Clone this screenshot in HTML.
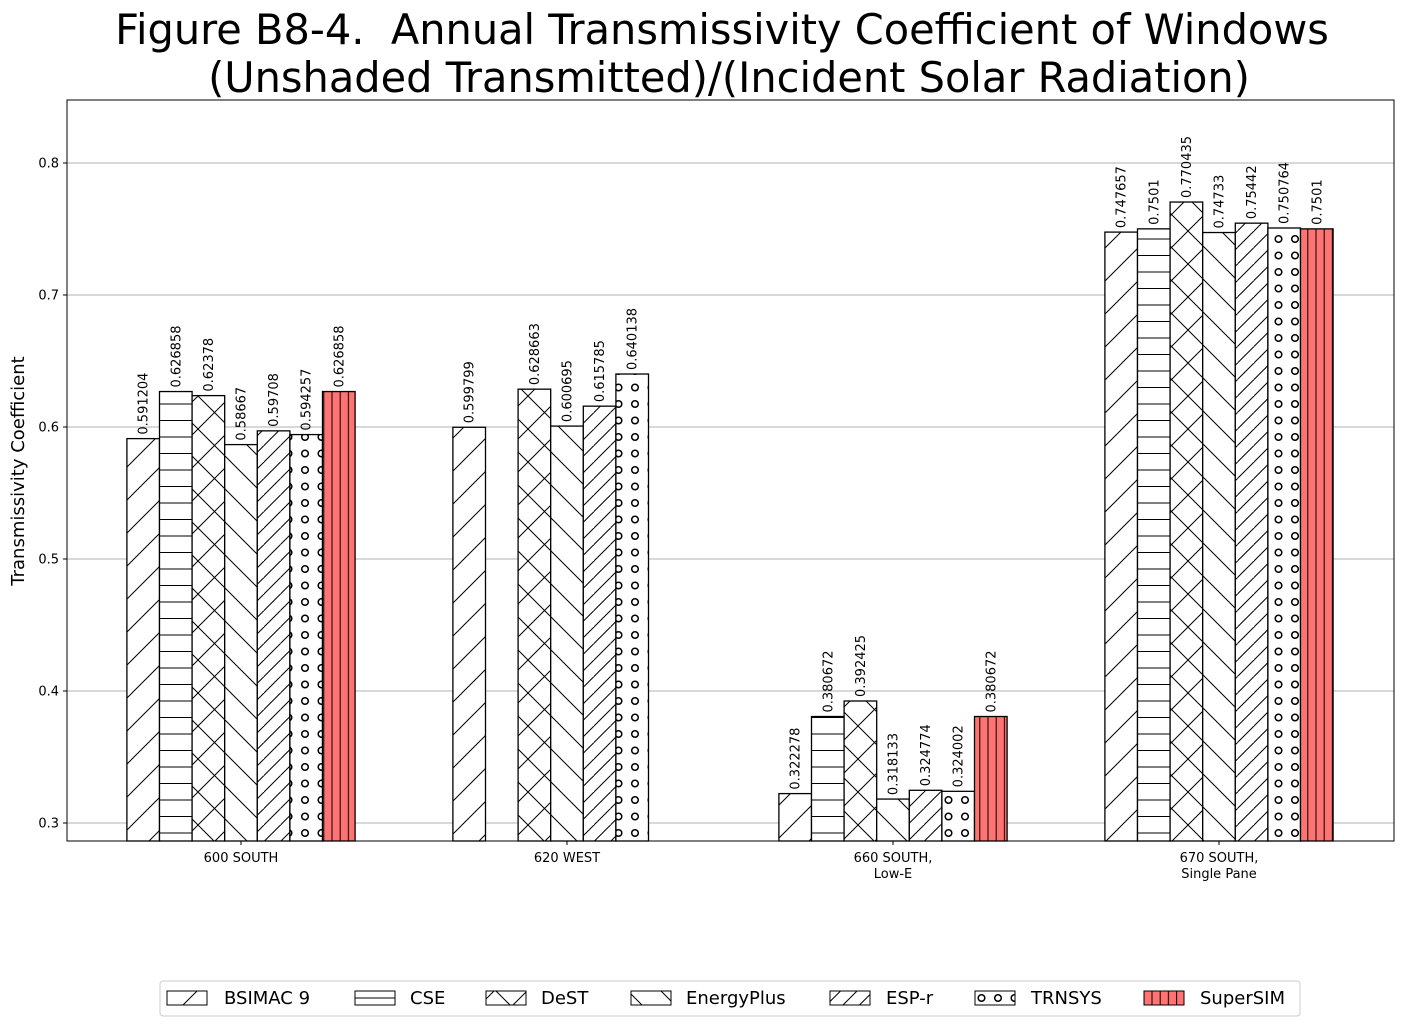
<!DOCTYPE html>
<html><head><meta charset="utf-8"><style>
body{margin:0;background:#fff}
svg text{font-family:"DejaVu Sans","Liberation Sans",sans-serif}
</style></head><body>
<svg id="chart" width="1403" height="1026" xmlns="http://www.w3.org/2000/svg">
<defs>
<pattern id="h0" patternUnits="userSpaceOnUse" width="33" height="33"><rect width="33" height="33" fill="#fff"/><path d="M-1,34 L34,-1 M-10,10 L10,-10 M23,43 L43,23" stroke="#000" stroke-width="1"/></pattern>
<pattern id="h1" patternUnits="userSpaceOnUse" width="16.5" height="16.5"><rect width="17" height="17" fill="#fff"/><path d="M0,8 H17" stroke="#000" stroke-width="1"/></pattern>
<pattern id="h2" patternUnits="userSpaceOnUse" width="33" height="33"><rect width="33" height="33" fill="#fff"/><path d="M-1,34 L34,-1 M-1,-1 L34,34" stroke="#000" stroke-width="1"/></pattern>
<pattern id="h3" patternUnits="userSpaceOnUse" width="33" height="33"><rect width="33" height="33" fill="#fff"/><path d="M-1,-1 L34,34 M-10,23 L10,43 M23,-10 L43,10" stroke="#000" stroke-width="1"/></pattern>
<pattern id="h4" patternUnits="userSpaceOnUse" width="16.5" height="16.5"><rect width="17" height="17" fill="#fff"/><path d="M-1,17.5 L17.5,-1 M-5,5 L5,-5 M12,22 L22,12" stroke="#000" stroke-width="1"/></pattern>
<pattern id="h5" patternUnits="userSpaceOnUse" width="16.5" height="16.5"><rect width="17" height="17" fill="#fff"/><circle cx="8" cy="8" r="3.3" fill="none" stroke="#000" stroke-width="1.5"/></pattern>
<pattern id="h6" patternUnits="userSpaceOnUse" width="8.2" height="16"><rect width="9" height="16" fill="#ff7373"/><path d="M4,0 V16" stroke="#000" stroke-width="1"/></pattern>
</defs>
<text x="722" y="44" font-size="41.5" text-anchor="middle">Figure B8-4. &#160;Annual Transmissivity Coefficient of Windows</text>
<text x="729" y="92" font-size="41.5" text-anchor="middle">(Unshaded Transmitted)/(Incident Solar Radiation)</text>
<g id="grid"></g>
<g id="bars"></g>
<rect x="67" y="100" width="1327" height="741" fill="none" stroke="#000" stroke-width="1"/>
<text transform="translate(24,471) rotate(-90)" font-size="18" text-anchor="middle">Transmissivity Coefficient</text>
<g id="legend">
<rect x="160" y="981" width="1140" height="35" rx="3" fill="#fff" stroke="#ccc"/>
</g>
</svg>
<script>
const categories=["600 SOUTH","620 WEST","660 SOUTH,|Low-E","670 SOUTH,|Single Pane"];
const series=["BSIMAC 9","CSE","DeST","EnergyPlus","ESP-r","TRNSYS","SuperSIM"];
const bsimac=[0.591204,0.599799,0.322278,0.747657];
const cse=[0.626858,null,0.380672,0.7501];
const dest=[0.62378,0.628663,0.392425,0.770435];
const energyplus=[0.58667,0.600695,0.318133,0.74733];
const espr=[0.59708,0.615785,0.324774,0.75442];
const trnsys=[0.594257,0.640138,0.324002,0.750764];
const supersim=[0.626858,null,0.380672,0.7501];
const labels=[["0.591204","0.599799","0.322278","0.747657"],["0.626858","","0.380672","0.7501"],["0.62378","0.628663","0.392425","0.770435"],["0.58667","0.600695","0.318133","0.74733"],["0.59708","0.615785","0.324774","0.75442"],["0.594257","0.640138","0.324002","0.750764"],["0.626858","","0.380672","0.7501"]];
const yTicks=[0.3,0.4,0.5,0.6,0.7,0.8];
const yTickLabels=["0.3","0.4","0.5","0.6","0.7","0.8"];
const allSeries=[bsimac,cse,dest,energyplus,espr,trnsys,supersim];
const NS="http://www.w3.org/2000/svg";
const L=67,R=1394,T=100,B=841;
function y(v){return 823-(v-0.3)*1320;}
const gw=326,bw=gw*0.7/7;
function xc(i){return 241+i*gw;}
function mk(t,a,p){const e=document.createElementNS(NS,t);for(const k in a)e.setAttribute(k,a[k]);p.appendChild(e);return e;}
const grid=document.getElementById('grid');
yTicks.forEach((t,i)=>{
 const g=mk('line',{x1:L,x2:R,y1:y(t),y2:y(t),stroke:'#b0b0b0','stroke-width':1},grid);
 
 
 mk('line',{x1:L-4,x2:L,y1:y(t),y2:y(t),stroke:'#000'},grid);
 const tx=mk('text',{x:L-8,y:y(t)+4.5,'font-size':13,'text-anchor':'end'},grid);
 tx.textContent=yTickLabels[i];
 
 
});
categories.forEach((c,i)=>{
 mk('line',{x1:xc(i),x2:xc(i),y1:B,y2:B+4,stroke:'#000'},grid);
 c.split('|').forEach((ln,j)=>{
  const tx=mk('text',{x:xc(i),y:B+21+j*16,'font-size':13,'text-anchor':'middle'},grid);
  tx.textContent=ln;
  
  
 });
});
const bars=document.getElementById('bars');
allSeries.forEach((s,si)=>{
 s.forEach((v,ci)=>{
  if(v==null)return;
  const x0=xc(ci)-3.5*bw+si*bw, yt=y(v);
  const r=mk('rect',{x:x0,y:yt,width:bw,height:B-yt,fill:'url(#h'+si+')',stroke:'#000','stroke-width':1.3},bars);
  
  
  const tx=mk('text',{transform:'translate('+(x0+bw/2+4.5)+','+(yt-4)+') rotate(-90)','font-size':13},bars);
  tx.textContent=labels[si][ci];
  
  
 });
});
const lg=document.getElementById('legend');
const px=[167,355,486,631,830,975,1144],tx=[224,410,541,686,886,1031,1200];
series.forEach((s,i)=>{
 const r=mk('rect',{x:px[i],y:991,width:40,height:14,fill:'url(#h'+i+')',stroke:'#000','stroke-width':1},lg);
 
 
 const t=mk('text',{x:tx[i],y:1004,'font-size':18},lg);
 t.textContent=s;
 
 
});
</script>
</body></html>
